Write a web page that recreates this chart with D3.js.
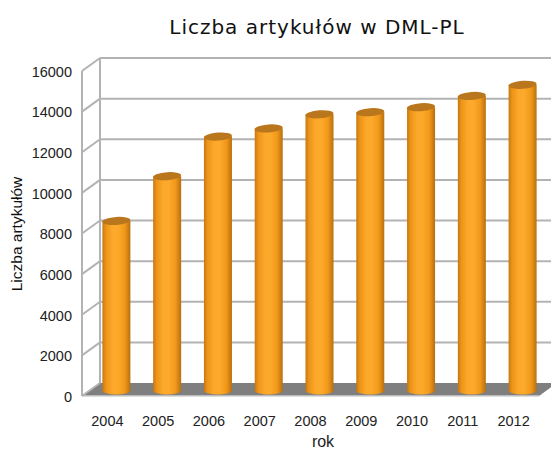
<!DOCTYPE html>
<html><head><meta charset="utf-8">
<script src="https://cdn.jsdelivr.net/npm/d3@7"></script>
<style>body{margin:0;background:#fff}svg{display:block}</style>
</head><body>
<svg id="c" width="551" height="450"></svg>
<script>
const categories = ["2004","2005","2006","2007","2008","2009","2010","2011","2012"];
const values = [8300, 10500, 12450, 12850, 13550, 13650, 13900, 14450, 15000];
const yTicks = [0, 2000, 4000, 6000, 8000, 10000, 12000, 14000, 16000];
const title = "Liczba artykułów w DML-PL";
const yTitle = "Liczba artykułów";
const xTitle = "rok";

const svg = d3.select("#c");
const DX = 18, DY = -13;
const x = d3.scaleBand().domain(categories).range([82, 539]).paddingInner(0).paddingOuter(0);
const y = d3.scaleLinear().domain([0, 16000]).range([396, 71]);
const x0 = x.range()[0], x1 = x.range()[1];

const defs = svg.append("defs");
const g = defs.append("linearGradient").attr("id","cyl").attr("x1","0").attr("x2","1").attr("y1","0").attr("y2","0");
[[0,"#c47710"],[0.12,"#ec9318"],[0.35,"#fca82a"],[0.55,"#fdaa2c"],[0.8,"#f19819"],[1,"#b8700f"]]
  .forEach(([o,c])=>g.append("stop").attr("offset",o).attr("stop-color",c));

// floor
svg.append("path")
  .attr("d", `M${x0},${y(0)} L${x0+DX},${y(0)+DY} L${x1+DX},${y(0)+DY} L${x1},${y(0)} Z`)
  .attr("fill","#7f7f7f");
svg.append("path").attr("d",`M${x0},${y(0)} L${x1},${y(0)}`).attr("stroke","#d0d0d0").attr("stroke-width",1.5);

// grid: back wall lines and left wall diagonals
const grid = svg.append("g").attr("stroke","#b3b3b3").attr("stroke-width",2).attr("fill","none");
yTicks.forEach(t=>{
  if (t>0) grid.append("line").attr("x1",x0+DX).attr("x2",x1+DX).attr("y1",y(t)+DY).attr("y2",y(t)+DY);
  grid.append("line").attr("x1",x0).attr("x2",x0+DX).attr("y1",y(t)).attr("y2",y(t)+DY);
});
grid.append("line").attr("x1",x0).attr("x2",x0).attr("y1",y(0)).attr("y2",y(16000));
grid.append("line").attr("x1",x0+DX).attr("x2",x0+DX).attr("y1",y(0)+DY).attr("y2",y(16000)+DY);

// bars (cylinders at mid depth)
const bars = svg.append("g");
const bw = 28, ry = 4;
categories.forEach((c,i)=>{
  const cx = x(c) + x.bandwidth()/2 + DX/2;
  const yb = y(0) + DY/2 + 1;
  const yt = y(values[i]) + DY/2;
  const gg = bars.append("g");
  gg.append("path")
    .attr("d", `M${cx-bw/2},${yt} L${cx-bw/2},${yb} A${bw/2},${ry} 0 0 0 ${cx+bw/2},${yb} L${cx+bw/2},${yt} Z`)
    .attr("fill","url(#cyl)");
  gg.append("ellipse").attr("cx",cx).attr("cy",yt).attr("rx",bw/2).attr("ry",ry)
    .attr("transform",`rotate(-4,${cx},${yt})`)
    .attr("fill","#b9761c");
});

// y tick labels
svg.append("g").selectAll("text").data(yTicks).join("text")
  .attr("x", 72).attr("y", d=>y(d)+2).attr("text-anchor","end").attr("dominant-baseline","middle")
  .attr("font-family","Liberation Sans, Arial, sans-serif").attr("font-size",14.5).attr("fill","#222")
  .text(d=>d);

// x tick labels
svg.append("g").selectAll("text").data(categories).join("text")
  .attr("x", d=>x(d)+x.bandwidth()/2).attr("y", 422).attr("text-anchor","middle").attr("dominant-baseline","middle")
  .attr("font-family","Liberation Sans, Arial, sans-serif").attr("font-size",14.5).attr("fill","#222")
  .text(d=>d);

// titles
svg.append("text").attr("x",317).attr("y",28).attr("text-anchor","middle").attr("dominant-baseline","middle")
  .attr("font-family","DejaVu Sans, sans-serif").attr("font-size",20).attr("letter-spacing",1).attr("fill","#111").text(title);
svg.append("text").attr("transform","translate(18,234) rotate(-90)").attr("text-anchor","middle").attr("dominant-baseline","middle")
  .attr("font-family","Liberation Sans, Arial, sans-serif").attr("font-size",15.5).attr("fill","#111").text(yTitle);
svg.append("text").attr("x",323).attr("y",443).attr("text-anchor","middle").attr("dominant-baseline","middle")
  .attr("font-family","Liberation Sans, Arial, sans-serif").attr("font-size",16).attr("fill","#222").text(xTitle);
</script>
</body></html>
